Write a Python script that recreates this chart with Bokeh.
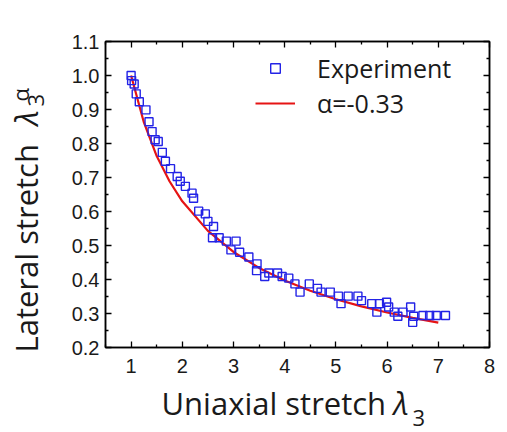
import math
from bokeh.plotting import figure
from bokeh.layouts import row, column
from bokeh.models import (Range1d, LinearAxis, Legend, LegendItem, Label,
                          FixedTicker, CustomJSTickFormatter)
from bokeh.embed import file_html
from bokeh.resources import INLINE

# ---- data ----
exp_x = [1.00, 1.01, 1.06, 1.10, 1.16, 1.29, 1.35, 1.41, 1.47, 1.53, 1.61, 1.67,
         1.77, 1.90, 1.96, 2.06, 2.19, 2.22, 2.32, 2.45, 2.50, 2.61, 2.59, 2.72,
         2.86, 3.05, 2.95, 3.12, 3.30, 3.46, 3.45, 3.61, 3.69, 3.86, 3.95, 4.08,
         4.20, 4.30, 4.48, 4.64, 4.71, 4.89, 5.05, 5.10, 5.24, 5.43, 5.50, 5.70,
         5.85, 5.80, 5.99, 6.03, 6.14, 6.31, 6.21, 6.46, 6.52, 6.50, 6.70, 6.83,
         6.96, 7.14]
exp_y = [1.000, 0.985, 0.975, 0.946, 0.923, 0.899, 0.864, 0.835, 0.811, 0.806, 0.774, 0.748,
         0.726, 0.703, 0.689, 0.674, 0.654, 0.639, 0.601, 0.593, 0.571, 0.556, 0.523, 0.523,
         0.513, 0.513, 0.487, 0.480, 0.466, 0.446, 0.426, 0.409, 0.419, 0.419, 0.409, 0.404,
         0.387, 0.363, 0.387, 0.374, 0.363, 0.363, 0.351, 0.329, 0.351, 0.351, 0.338, 0.329,
         0.329, 0.304, 0.333, 0.319, 0.304, 0.304, 0.292, 0.319, 0.292, 0.274, 0.294, 0.294,
         0.294, 0.294]

fit_x = [1.0, 1.25, 1.5, 1.75, 2.0, 2.5, 3.0, 3.5, 4.0, 4.5, 5.0, 5.5, 6.0, 6.5, 7.0]
fit_y = [1.000, 0.862, 0.763, 0.689, 0.630, 0.543, 0.481, 0.434, 0.397, 0.367,
         0.342, 0.321, 0.303, 0.287, 0.273]

x_ticks = [1, 2, 3, 4, 5, 6, 7, 8]
y_ticks = [0.2, 0.3, 0.4, 0.5, 0.6, 0.7, 0.8, 0.9, 1.0, 1.1]

BLUE = "#2323e6"
RED = "#e61414"
TXT = "#1a1a1a"
TITLE_FONT = "Open Sans"

YT_W = 50
XT_H = 51
TOTAL_W, TOTAL_H = 507, 432

p = figure(width=TOTAL_W - YT_W, height=TOTAL_H - XT_H,
           min_border_left=55, min_border_right=18, min_border_top=41, min_border_bottom=34,
           x_range=Range1d(0.5, 8.0), y_range=Range1d(0.2, 1.1),
           output_backend="svg", toolbar_location=None, x_axis_location=None,
           y_axis_location=None)
p.background_fill_color = "white"
p.border_fill_color = "white"
p.outline_line_color = "black"
p.outline_line_width = 1.5
p.xgrid.visible = False
p.ygrid.visible = False

def style_axis(ax, labels=True, standoff=6):
    ax.axis_line_color = "black"
    ax.axis_line_width = 1.5
    ax.major_tick_in = 6
    ax.major_tick_out = 0
    ax.minor_tick_in = 3
    ax.minor_tick_out = 0
    ax.major_tick_line_color = "black"
    ax.minor_tick_line_color = "black"
    ax.major_tick_line_width = 1.3
    ax.minor_tick_line_width = 1.3
    ax.major_label_text_font = "Liberation Sans"
    ax.major_label_text_font_size = "20px"
    ax.major_label_text_color = TXT if labels else None
    ax.major_label_standoff = standoff

xt = FixedTicker(ticks=x_ticks, minor_ticks=[v + 0.5 for v in [0] + x_ticks[:-1]])
yt = FixedTicker(ticks=y_ticks, minor_ticks=[round(v + 0.05, 2) for v in y_ticks[:-1]])

bx = LinearAxis(ticker=xt); style_axis(bx, standoff=11)
tx = LinearAxis(ticker=xt, major_label_overrides={t: "" for t in x_ticks}); style_axis(tx, labels=False)
ly = LinearAxis(ticker=yt); style_axis(ly)
ry = LinearAxis(ticker=yt, major_label_overrides={t: "" for t in y_ticks}); style_axis(ry, labels=False)
ly.formatter = CustomJSTickFormatter(code="return tick.toFixed(1);")
p.add_layout(bx, "below")
p.add_layout(tx, "above")
p.add_layout(ly, "left")
p.add_layout(ry, "right")

fit = p.line(fit_x, fit_y, line_color=RED, line_width=2.2)
sq = p.scatter(exp_x, exp_y, marker="square", size=8, fill_color=None,
               line_color=BLUE, line_width=1.4)

legend = Legend(items=[LegendItem(label="Experiment", renderers=[sq]),
                       LegendItem(label="α=-0.33", renderers=[fit])],
                location=(150, 227), orientation="vertical",
                glyph_width=40, glyph_height=24, label_height=24, spacing=1,
                padding=0, margin=0, label_standoff=22,
                label_text_font=TITLE_FONT, label_text_font_size="25px",
                label_text_color=TXT, border_line_color=None,
                background_fill_alpha=0)
p.add_layout(legend, "center")

def strip(w, h):
    f = figure(width=w, height=h, min_border=0, min_border_left=0, min_border_right=0,
               min_border_top=0, min_border_bottom=0, title=None,
               x_range=Range1d(0, 1), y_range=Range1d(0, 1),
               output_backend="svg", toolbar_location=None, x_axis_location=None,
               y_axis_location=None, outline_line_color=None)
    f.xgrid.visible = False
    f.ygrid.visible = False
    f.background_fill_color = "white"
    f.border_fill_color = "white"
    return f

def lab(f, text, x, y, size, style="normal", angle=0.0):
    f.add_layout(Label(x=x, y=y, x_units="screen", y_units="screen", text=text,
                       text_font=TITLE_FONT, text_font_size=size, text_font_style=style,
                       text_color=TXT, text_baseline="alphabetic", text_align="left",
                       angle=angle))

# x title (strip frame is aligned with the main frame: starts at page x=105)
xs = strip(TOTAL_W - YT_W, XT_H)
lab(xs, "Uniaxial stretch", 56, 30, "31px")
lab(xs, "λ", 288, 30, "31px", "italic")
lab(xs, "3", 307, 15, "22px")

# y title (rotated)
ys = strip(YT_W, TOTAL_H)
a = math.pi / 2
lab(ys, "Lateral stretch", 25, 80, "31px", angle=a)
lab(ys, "λ", 25, 307, "31px", "italic", angle=a)
lab(ys, "3", 35, 326, "22px", angle=a)
lab(ys, "α", 19, 331, "22px", angle=a)

layout = row(ys, column(p, xs))
open("out.html", "w").write(file_html(layout, INLINE))
